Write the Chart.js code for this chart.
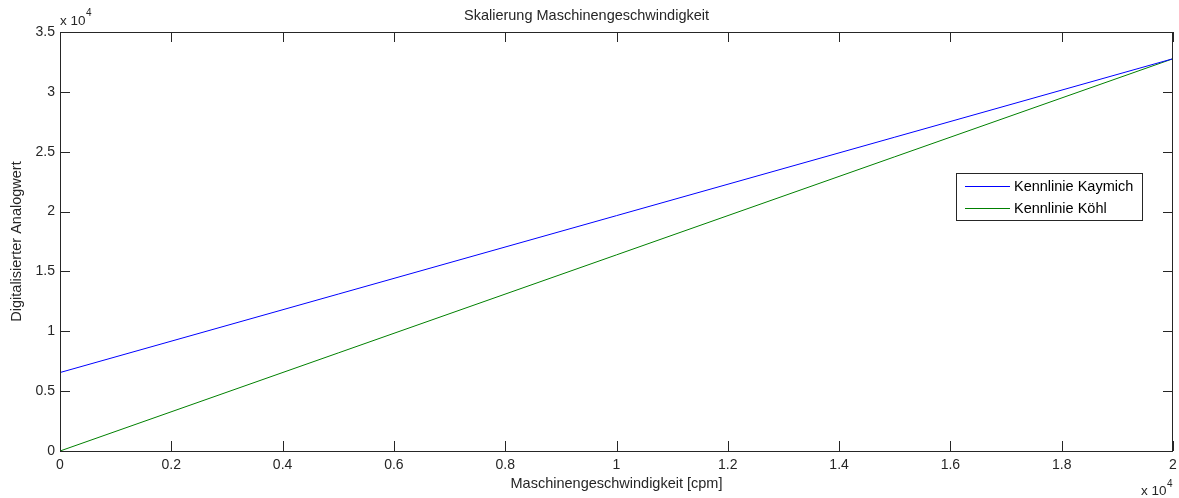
<!DOCTYPE html>
<html>
<head>
<meta charset="utf-8">
<script src="https://cdn.jsdelivr.net/npm/chart.js@4/dist/chart.umd.min.js"></script>
<style>
  html, body { margin: 0; padding: 0; background: #fff; }
  #wrap { width: 1179px; height: 498px; }
</style>
</head>
<body>
<div id="wrap"><canvas id="chart" width="1179" height="498"></canvas></div>
<script>
// Kennlinien: Maschinengeschwindigkeit [cpm] -> Digitalisierter Analogwert
const speed = [0, 20000];
const kaymich = [6554, 32767];
const koehl = [0, 32767];
const seriesLabels = ['Kennlinie Kaymich', 'Kennlinie Köhl'];
const seriesColors = ['#0000ff', '#008000'];

const FONT = 'Arial, "Liberation Sans", Helvetica, sans-serif';
const FS = 14.5;
const txt = '#262626';

// MATLAB style: box, inward ticks on all four sides, legend inside, "x 10^4" multipliers
const matlabLook = {
    id: 'matlabLook',
    afterDraw(chart) {
        const ctx = chart.ctx;
        const a = chart.chartArea;
        const xs = chart.scales.x, ys = chart.scales.y;
        ctx.save();
        ctx.strokeStyle = '#262626';
        ctx.lineWidth = 1;
        ctx.beginPath();
        xs.ticks.forEach(t => {
            const px = Math.round(xs.getPixelForValue(t.value)) + 0.5;
            ctx.moveTo(px, a.bottom); ctx.lineTo(px, a.bottom - 10);
            ctx.moveTo(px, a.top); ctx.lineTo(px, a.top + 10);
        });
        ys.ticks.forEach(t => {
            const py = Math.round(ys.getPixelForValue(t.value)) + 0.5;
            ctx.moveTo(a.left, py); ctx.lineTo(a.left + 10, py);
            ctx.moveTo(a.right, py); ctx.lineTo(a.right - 10, py);
        });
        ctx.stroke();
        ctx.strokeRect(Math.round(a.left) + 0.5, Math.round(a.top) + 0.5,
            Math.round(a.right - a.left) - 1, Math.round(a.bottom - a.top));

        // exponent labels
        ctx.fillStyle = txt;
        ctx.textBaseline = 'alphabetic';
        ctx.textAlign = 'left';
        ctx.font = '13.5px ' + FONT;
        ctx.fillText('x 10', a.left, a.top - 7);
        ctx.fillText('x 10', a.right - 32, 495);
        ctx.font = '10px ' + FONT;
        ctx.fillText('4', a.left + 26, a.top - 16);
        ctx.fillText('4', a.right - 6, 487);

        // legend
        const lx = 956, ly = 173, lw = 186, lh = 47;
        ctx.fillStyle = '#fff';
        ctx.fillRect(lx, ly, lw, lh);
        ctx.strokeStyle = '#262626';
        ctx.strokeRect(lx + 0.5, ly + 0.5, lw, lh);
        ctx.font = FS + 'px ' + FONT;
        ctx.textBaseline = 'middle';
        chart.data.datasets.forEach((ds, i) => {
            const y = ly + 13 + i * 22;
            ctx.strokeStyle = ds.borderColor;
            ctx.beginPath();
            ctx.moveTo(lx + 9, Math.round(y) + 0.5);
            ctx.lineTo(lx + 54, Math.round(y) + 0.5);
            ctx.stroke();
            ctx.fillStyle = '#000';
            ctx.fillText(ds.label, lx + 58, y + 1);
        });
        ctx.restore();
    }
};

new Chart(document.getElementById('chart').getContext('2d'), {
    type: 'line',
    data: {
        datasets: [
            {
                label: seriesLabels[0],
                data: speed.map((x, i) => ({ x: x, y: kaymich[i] })),
                borderColor: seriesColors[0],
                borderWidth: 1,
                pointRadius: 0,
                fill: false
            },
            {
                label: seriesLabels[1],
                data: speed.map((x, i) => ({ x: x, y: koehl[i] })),
                borderColor: seriesColors[1],
                borderWidth: 1,
                pointRadius: 0,
                fill: false
            }
        ]
    },
    options: {
        responsive: false,
        animation: false,
        layout: { padding: { top: 0, right: 6, left: 0, bottom: 0 } },
        plugins: {
            legend: { display: false },
            tooltip: { enabled: false },
            title: {
                display: true,
                text: 'Skalierung Maschinengeschwindigkeit',
                color: txt,
                font: { family: FONT, size: FS, weight: 'normal' },
                padding: { top: 7.3, bottom: 7.3 }
            }
        },
        scales: {
            x: {
                type: 'linear',
                min: 0,
                max: 20000,
                afterFit: s => { s.height = 47; s.paddingLeft = 0; s.paddingRight = 0; },
                border: { display: false },
                grid: { display: false, drawTicks: false },
                ticks: {
                    stepSize: 2000,
                    padding: 6,
                    color: txt,
                    font: { family: FONT, size: 14 },
                    maxRotation: 0,
                    callback: v => String(v / 10000)
                },
                title: {
                    display: true,
                    text: 'Maschinengeschwindigkeit [cpm]',
                    color: txt,
                    font: { family: FONT, size: FS },
                    padding: { top: 0, bottom: 5.3 }
                }
            },
            y: {
                type: 'linear',
                min: 0,
                max: 35000,
                afterFit: s => { s.width = 60; },
                border: { display: false },
                grid: { display: false, drawTicks: false },
                ticks: {
                    stepSize: 5000,
                    padding: 5,
                    color: txt,
                    font: { family: FONT, size: 14 },
                    callback: v => String(v / 10000)
                },
                title: {
                    display: true,
                    text: 'Digitalisierter Analogwert',
                    color: txt,
                    font: { family: FONT, size: FS },
                    padding: { top: 8.3, bottom: 0 }
                }
            }
        }
    },
    plugins: [matlabLook]
});
</script>
</body>
</html>
